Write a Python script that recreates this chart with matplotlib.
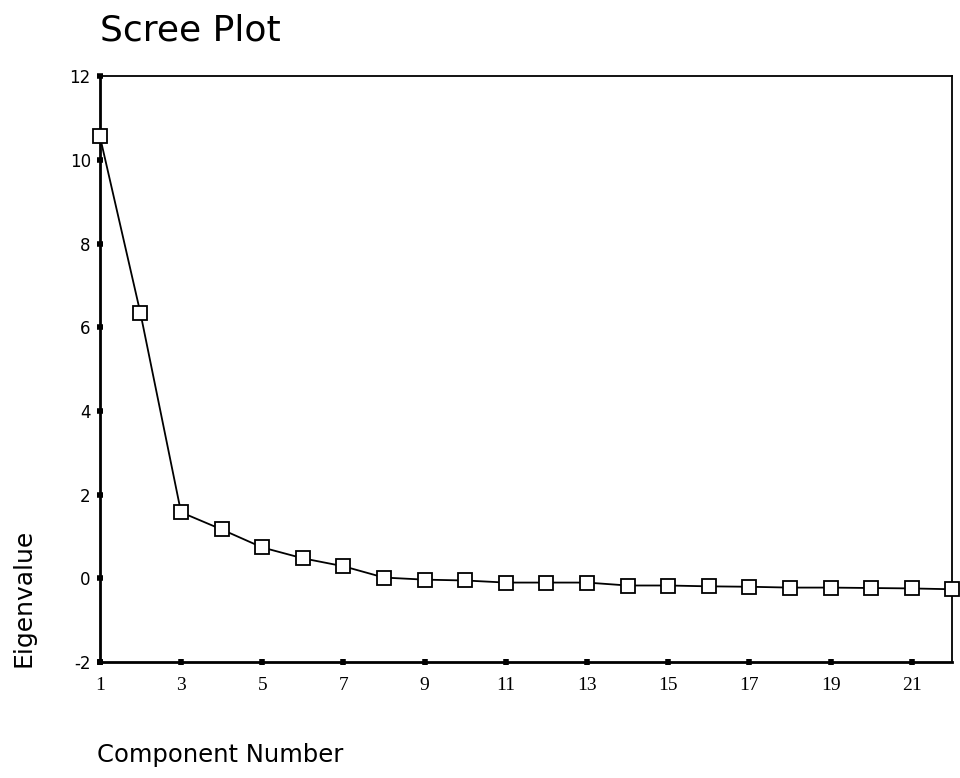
import matplotlib.pyplot as plt

components = list(range(1, 23))
eigenvalues = [10.57, 6.34, 1.58, 1.17, 0.74, 0.48, 0.29, 0.02, -0.03, -0.05,
               -0.10, -0.10, -0.10, -0.17, -0.17, -0.19, -0.20, -0.22, -0.22,
               -0.23, -0.24, -0.26]
x_ticks = [1, 3, 5, 7, 9, 11, 13, 15, 17, 19, 21]
y_ticks = [-2, 0, 2, 4, 6, 8, 10, 12]

plt.rcParams['axes.unicode_minus'] = False

fig = plt.figure(figsize=(9.6, 7.78), dpi=100)
ax = fig.add_axes([0.104, 0.149, 0.888, 0.753])

ax.plot(components, eigenvalues, color='black', linewidth=1.3,
        marker='s', markersize=10, markerfacecolor='white',
        markeredgecolor='black', markeredgewidth=1.3, clip_on=False, zorder=3)

ax.set_xlim(1, 22)
ax.set_ylim(-2, 12)
ax.set_xticks(x_ticks)
ax.set_yticks(y_ticks)
ax.tick_params(axis='both', direction='inout', length=5, width=4, color='black')
ax.tick_params(axis='x', pad=8)
ax.tick_params(axis='y', pad=4)
for lab in ax.get_xticklabels():
    lab.set_fontfamily('Liberation Serif')
    lab.set_fontsize(14)
for lab in ax.get_yticklabels():
    lab.set_fontfamily('DejaVu Sans')
    lab.set_fontsize(12)

for side in ['left', 'bottom']:
    ax.spines[side].set_linewidth(2)
for side in ['top', 'right']:
    ax.spines[side].set_linewidth(1.3)

fig.text(0.104, 0.961, 'Scree Plot', fontsize=26, ha='left', va='center',
         family='DejaVu Sans')
fig.text(0.101, 0.03, 'Component Number', fontsize=17.5, ha='left', va='center',
         family='DejaVu Sans')
fig.text(0.024, 0.231, 'Eigenvalue', fontsize=18, ha='center', va='center',
         rotation=90, family='DejaVu Sans')

fig.savefig('out.png', dpi=100)
